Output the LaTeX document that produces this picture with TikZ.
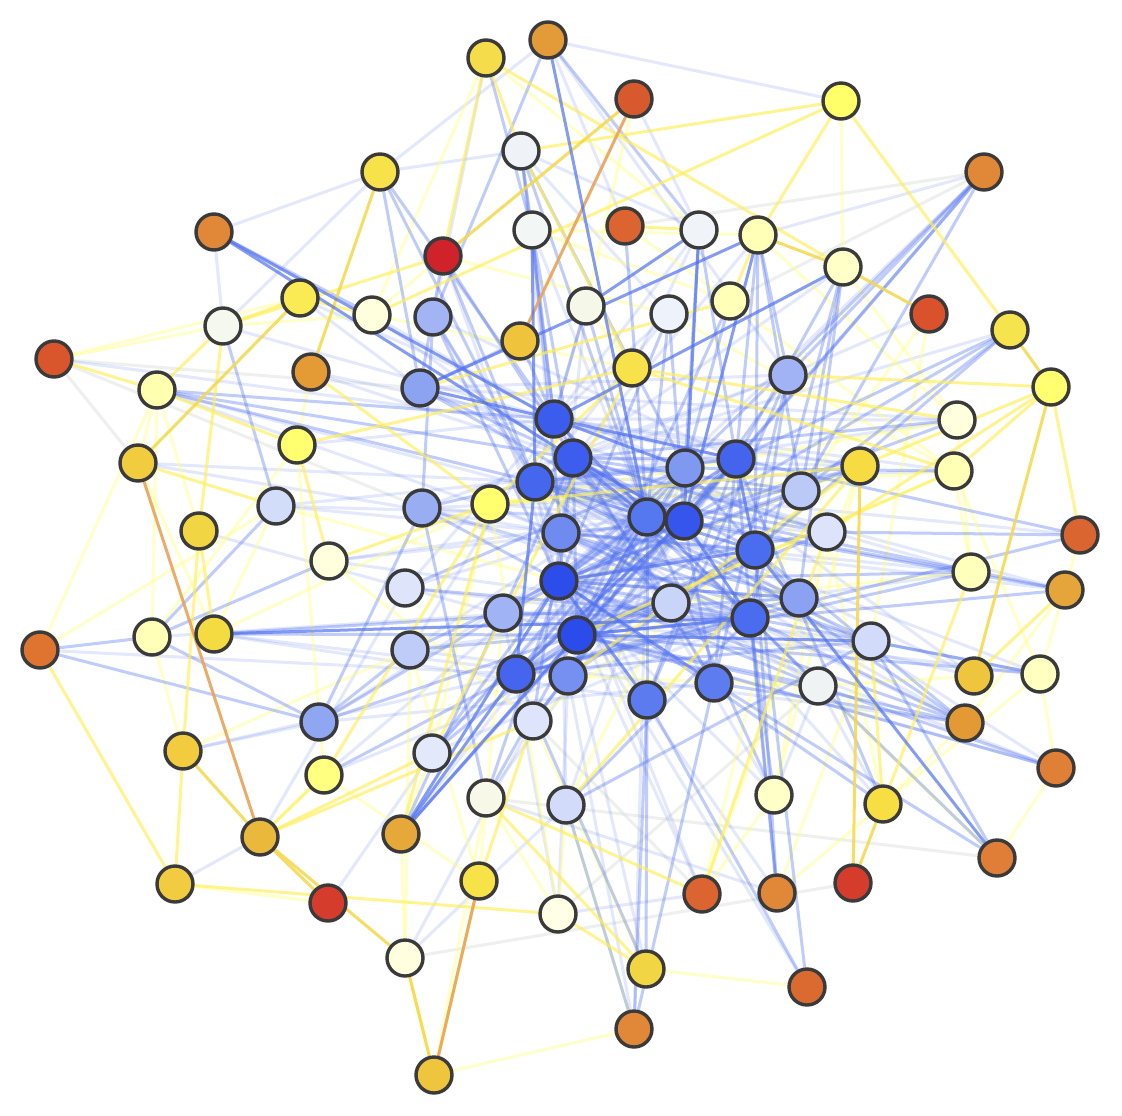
\documentclass[tikz,border=0pt]{standalone}
\usetikzlibrary{backgrounds}
\definecolor{eblue}{HTML}{5272EF}
\definecolor{eyel}{HTML}{FFEF55}
\definecolor{eyl}{HTML}{FFFF88}
\definecolor{eyd}{HTML}{F5D84A}
\definecolor{eor}{HTML}{E8A458}
\definecolor{egr}{HTML}{DDE2DD}
\definecolor{nborder}{HTML}{3A3A3A}
\newcommand\nd[4]{\definecolor{c#1}{HTML}{#4}\node[vx,fill=c#1] (n#1) at (#2,-#3) {};}
\tikzset{
  vx/.style={circle,draw=nborder,line width=3.4pt,minimum size=36pt,inner sep=0pt},
  ed/.style={line width=3pt},
  bs/.style={ed,draw=eblue,draw opacity=0.7},
  bm/.style={ed,draw=eblue,draw opacity=0.36},
  bl/.style={ed,draw=eblue,draw opacity=0.16},
  yy/.style={ed,draw=eyel,draw opacity=0.65},
  yl/.style={ed,draw=eyl,draw opacity=0.45},
  yd/.style={ed,draw=eyd,draw opacity=0.85},
  eo/.style={ed,draw=eor,draw opacity=0.9},
  gr/.style={ed,draw=egr,draw opacity=0.5}
}
\begin{document}
\begin{tikzpicture}[x=1pt,y=1pt]
\useasboundingbox (0,0) rectangle (1122,-1116);
\nd{1}{486}{58}{F5DC4A}
\nd{2}{548}{40}{E39A38}
\nd{3}{634}{99}{D9592E}
\nd{4}{841}{101}{FFFF6A}
\nd{5}{984}{172}{E08837}
\nd{6}{521}{151}{EFF3F8}
\nd{7}{380}{172}{F7E24A}
\nd{8}{214}{232}{E08837}
\nd{9}{443}{256}{D0222A}
\nd{10}{532}{230}{F2F6F5}
\nd{11}{625}{226}{DC6430}
\nd{12}{699}{230}{F0F4F8}
\nd{13}{758}{235}{FFFFB8}
\nd{14}{843}{267}{FFFFC8}
\nd{15}{929}{314}{D9522C}
\nd{16}{1010}{330}{F6E44E}
\nd{17}{1051}{387}{FFFF70}
\nd{18}{300}{298}{FAEB55}
\nd{19}{372}{315}{FFFFDD}
\nd{20}{223}{326}{F4F8EE}
\nd{21}{433}{317}{A3B4F5}
\nd{22}{586}{306}{F5F8E8}
\nd{23}{669}{314}{EEF3FB}
\nd{24}{730}{301}{FFFFB8}
\nd{25}{520}{341}{EFC43C}
\nd{26}{54}{359}{D9552C}
\nd{27}{157}{390}{FFFFB0}
\nd{28}{311}{372}{E59B35}
\nd{29}{420}{388}{8CA3F1}
\nd{30}{632}{368}{F7E24A}
\nd{31}{788}{375}{A1B3F4}
\nd{32}{957}{420}{FFFFDD}
\nd{33}{297}{445}{FFFF70}
\nd{34}{138}{463}{F0CC3E}
\nd{35}{554}{419}{3C5CED}
\nd{36}{573}{458}{3D5DEE}
\nd{37}{535}{482}{4567EE}
\nd{38}{685}{468}{7F99F0}
\nd{39}{736}{459}{4464EE}
\nd{40}{860}{466}{F6DB42}
\nd{41}{954}{471}{FFFFB5}
\nd{42}{199}{531}{F2D542}
\nd{43}{276}{506}{D2DDFA}
\nd{44}{422}{508}{99ADF3}
\nd{45}{490}{504}{FFFF70}
\nd{46}{647}{517}{5577EF}
\nd{47}{684}{521}{3555ED}
\nd{48}{801}{491}{BBC9F7}
\nd{49}{827}{532}{DCE3FB}
\nd{50}{561}{533}{6F8BF0}
\nd{51}{1080}{535}{DB6530}
\nd{52}{329}{561}{FFFFDD}
\nd{53}{559}{581}{2D4DEB}
\nd{54}{755}{550}{4A6CEE}
\nd{55}{405}{588}{DEE5FB}
\nd{56}{971}{572}{FFFFBC}
\nd{57}{1065}{590}{E6A53A}
\nd{58}{40}{650}{DE7430}
\nd{59}{152}{637}{FFFFB8}
\nd{60}{214}{634}{F5DB42}
\nd{61}{503}{613}{A0B3F4}
\nd{62}{577}{635}{2B4BEB}
\nd{63}{671}{603}{C8D4F8}
\nd{64}{750}{618}{4A6CEE}
\nd{65}{799}{598}{8BA2F2}
\nd{66}{871}{641}{D2DCFA}
\nd{67}{410}{650}{BFCCF8}
\nd{68}{516}{674}{4565EE}
\nd{69}{568}{676}{7590F0}
\nd{70}{974}{676}{F0C53E}
\nd{71}{1040}{674}{FFFFC0}
\nd{72}{647}{700}{5B7BEF}
\nd{73}{714}{683}{5C7CEF}
\nd{74}{818}{686}{F0F3F3}
\nd{75}{319}{722}{8FA6F2}
\nd{76}{533}{721}{DEE4FB}
\nd{77}{965}{723}{E39A35}
\nd{78}{183}{751}{F2CC3E}
\nd{79}{324}{775}{FFFF80}
\nd{80}{432}{753}{E3E8FB}
\nd{81}{1056}{768}{E08037}
\nd{82}{486}{798}{F8F8E8}
\nd{83}{566}{805}{D2DCFA}
\nd{84}{774}{795}{FFFFC8}
\nd{85}{883}{804}{F7DE42}
\nd{86}{260}{837}{EAB83B}
\nd{87}{401}{834}{E6A838}
\nd{88}{997}{858}{E07E37}
\nd{89}{175}{884}{F2CC40}
\nd{90}{328}{903}{D63C2C}
\nd{91}{479}{881}{F7E248}
\nd{92}{558}{914}{FFFFE6}
\nd{93}{702}{894}{DC6430}
\nd{94}{777}{893}{E08837}
\nd{95}{853}{883}{D63C2C}
\nd{96}{405}{958}{FFFFE0}
\nd{97}{646}{969}{F2D542}
\nd{98}{807}{987}{DB6A30}
\nd{99}{634}{1029}{E08837}
\nd{100}{434}{1075}{F0C53E}
\begin{pgfonlayer}{background}
\fill[white] (0,0) rectangle (1122,-1116);
% faint grey
\foreach \a/\b in {26/29,26/44,96/95,5/24,82/88,26/34,76/93,74/92,5/11}
  \draw[gr] (n\a) -- (n\b);
% light blue
\foreach \a/\b in {2/7,2/4,2/31,5/13,15/31,1/21,6/7,7/8,7/20,8/20,6/12,35/41,35/32,29/31,44/66,55/66,67/56,67/77,52/46,52/47,43/54,43/39,61/81,61/71,75/73,80/64,87/46,99/46,98/53,93/53,81/53,70/46,70/53,57/36,56/36,32/29,29/49,21/39,28/39,28/36,33/35,27/46,27/50,34/37,34/50,43/46,42/62,59/63,60/69,55/35,55/46,67/35,67/38,75/46,79/69,79/38,80/46,82/39,83/38,83/50,84/53,84/36,85/36,94/53,93/37,97/37,92/61,92/69,99/69,66/44,74/37,74/50,77/37,77/50,81/36,71/37,70/38,56/50,57/50,51/37,41/37,32/37,40/35,40/36,49/44,48/44,31/36,31/44,23/35,23/37,22/37,22/50,10/46,12/35,13/36,16/36,14/37,5/53,6/50,21/50,9/53,19/35,19/46,18/29,18/38,20/35,26/40,45/46,45/64,44/64,37/69,68/38,69/64,72/37,73/36,2/11,3/12,6/23,12/30,84/74,85/74,90/80,89/86,96/83,96/76,78/75,78/68,58/68,60/72,52/64,86/55,92/93,82/94}
  \draw[bl] (n\a) -- (n\b);
% light yellow
\foreach \a/\b in {4/14,15/66,15/48,32/56,41/71,41/56,51/57,57/71,71/81,59/78,59/27,58/27,58/43,26/20,99/100,98/97,87/96,83/92,41/62,28/33,19/9,19/1,79/33,79/86,84/49,93/40,94/85,45/48,76/40,27/42,59/33,60/45,43/53,52/76,79/91,82/100,91/61,92/45,96/67,80/45,87/80,34/60,19/30,22/30,10/13,11/24,23/41,24/41,32/45,41/45,40/61,56/63,70/74,71/85,57/77,81/88,77/85,88/74,66/94,84/93,74/69,63/83,92/82,89/90,20/19,27/34,26/18,9/23,1/12,3/22,10/24,14/32,13/32,49/85,40/84,48/93,97/76,99/83,91/67,78/67,60/43}
  \draw[yl] (n\a) -- (n\b);
% medium blue
\foreach \a/\b in {2/21,7/35,7/37,7/29,6/10,6/38,6/35,6/46,10/36,10/50,10/35,9/29,9/37,9/36,21/37,21/44,22/35,22/46,23/46,23/53,23/47,13/31,13/48,13/39,13/54,14/39,14/48,14/64,14/65,5/31,5/38,5/48,5/39,16/47,16/54,16/48,16/39,31/47,31/64,31/72,31/73,24/38,24/62,11/46,27/35,27/37,27/36,20/43,44/75,44/37,44/53,44/82,75/59,75/61,75/62,75/67,55/64,55/38,61/39,61/47,62/36,62/38,62/39,62/47,62/54,62/77,53/36,53/46,53/39,53/77,53/65,50/64,50/54,50/47,68/46,68/39,69/46,69/38,72/46,72/97,72/99,73/77,73/88,73/47,73/39,64/88,64/77,64/94,54/94,54/98,65/38,65/53,66/37,66/50,66/68,66/88,66/83,63/36,63/37,63/68,49/36,49/37,49/53,48/36,48/37,48/53,48/68,38/37,38/53,39/36,39/37,46/37,47/36,47/37,47/53,54/36,54/37,54/68,64/36,64/35,64/68,65/37,65/68,74/53,74/62,74/35,77/54,77/36,57/37,57/46,56/47,56/53,51/49,51/39,41/38,32/47,32/36,40/53,40/47,71/62,71/66,81/74,81/62,85/53,85/39,84/64,84/46,94/39,98/72,99/73,97/68,83/99,82/62,82/53,80/53,80/62,80/38,79/68,76/39,76/36,87/36,87/39,58/59,58/75,43/59,60/65,60/62,59/52,29/46,29/36,25/29,25/35,21/53,12/38,12/39,1/10,2/12,5/47,8/19,67/53,67/62,61/64,69/54,72/39,73/35,76/47,83/64,56/68,57/62,51/68,71/53,49/62,65/50,63/62,36/37,50/53,46/54,39/47}
  \draw[bm] (n\a) -- (n\b);
% yellow
\foreach \a/\b in {1/9,1/6,1/14,4/6,4/16,4/13,4/19,17/40,17/41,17/49,17/51,17/31,18/20,18/19,20/27,26/27,27/33,34/43,42/60,42/20,6/30,24/29,45/30,45/28,33/30,33/52,58/89,78/89,89/92,82/97,92/97,96/100,82/93,85/56,57/70,11/12,13/24,91/76,91/100,45/87,86/80,86/76,86/79,79/45,9/20,30/32,30/41,40/45,52/45,42/78,80/30,83/40,93/49,66/85,62/41,69/40}
  \draw[yy] (n\a) -- (n\b);
% darker yellow
\foreach \a/\b in {3/9,14/13,14/15,16/17,17/70,18/34,7/28,78/86,86/90,86/96,85/95,40/95,96/100}
  \draw[yd] (n\a) -- (n\b);
% orange
\foreach \a/\b in {3/25,34/86,91/100}
  \draw[eo] (n\a) -- (n\b);
% strong blue
\foreach \a/\b in {2/46,8/36,8/35,14/35,13/47,12/47,12/22,10/37,29/35,87/53,87/62,87/68,62/64,53/72,37/68,36/46,35/38,47/64,39/54,53/73,88/54,60/64,62/66,68/47,35/39,13/29,46/62,53/54,36/47}
  \draw[bs] (n\a) -- (n\b);
\end{pgfonlayer}
\end{tikzpicture}
\end{document}
